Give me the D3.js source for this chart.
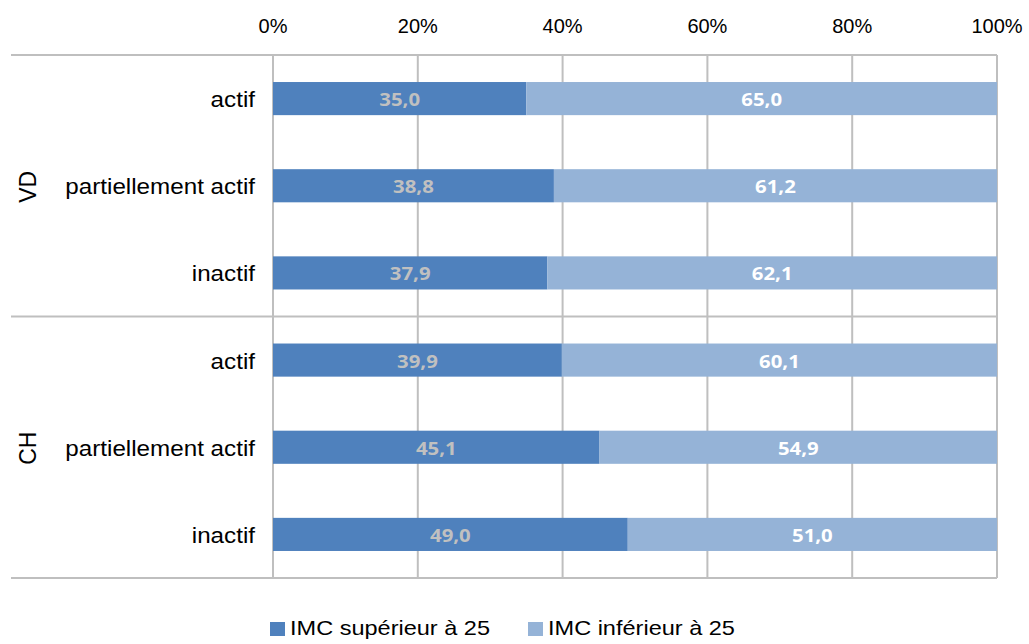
<!DOCTYPE html>
<html lang="fr">
<head>
<meta charset="utf-8">
<script src="https://cdn.jsdelivr.net/npm/d3@7"></script>
<style>
  body { margin: 0; background: #fff; }
  text { font-family: "Liberation Sans", Arial, sans-serif; }
</style>
</head>
<body>
<script>
// Données
var groups = ["VD", "CH"];
var categories = ["actif", "partiellement actif", "inactif"];
var superieur = [35.0, 38.8, 37.9, 39.9, 45.1, 49.0];
var inferieur = [65.0, 61.2, 62.1, 60.1, 54.9, 51.0];
var seriesNames = ["IMC supérieur à 25", "IMC inférieur à 25"];
var ticks = [0, 20, 40, 60, 80, 100];

var w = 1029, h = 644;
var mLeft = 273, mRight = 997, mTop = 55, mBottom = 578;
var colors = ["#4f81bd", "#95b3d7"];
var gridColor = "#bfbfbf";

var svg = d3.select("body").append("svg").attr("width", w).attr("height", h);

// le texte du graphique d'origine est un peu étiré en largeur
function stretch(sel, k) {
  sel.each(function() {
    var l = this.getComputedTextLength();
    d3.select(this).attr("textLength", l * k).attr("lengthAdjust", "spacingAndGlyphs");
  });
}

var rows = [];
groups.forEach(function(g, gi) {
  categories.forEach(function(c, ci) {
    var i = gi * categories.length + ci;
    rows.push({ key: g + "|" + c, group: g, cat: c, sup: superieur[i], inf: inferieur[i] });
  });
});

var x = d3.scaleLinear().domain([0, 100]).range([mLeft, mRight]);
var y = d3.scaleBand().domain(rows.map(function(d) { return d.key; }))
  .range([mTop, mBottom]).paddingInner(0.62).paddingOuter(0.31);

// Grille verticale
svg.selectAll("line.grid").data(ticks).enter().append("line")
  .attr("x1", function(d) { return x(d); }).attr("x2", function(d) { return x(d); })
  .attr("y1", mTop).attr("y2", mBottom)
  .attr("stroke", gridColor).attr("stroke-width", 2);

// Lignes horizontales (haut, séparation, bas)
var step = (mBottom - mTop) / rows.length;
[mTop, mTop + step * categories.length, mBottom].forEach(function(yy) {
  svg.append("line").attr("x1", 11).attr("x2", mRight)
    .attr("y1", yy).attr("y2", yy)
    .attr("stroke", gridColor).attr("stroke-width", 2);
});

// Axe du haut
svg.selectAll("text.tick").data(ticks).enter().append("text")
  .attr("x", function(d) { return x(d); }).attr("y", 33)
  .attr("text-anchor", "middle").attr("font-size", 20).attr("fill", "#000")
  .text(function(d) { return d + "%"; });

// Barres
var bars = svg.selectAll("g.row").data(rows).enter().append("g");
bars.append("rect")
  .attr("x", x(0)).attr("y", function(d) { return y(d.key); })
  .attr("width", function(d) { return x(d.sup) - x(0); })
  .attr("height", y.bandwidth()).attr("fill", colors[0]);
bars.append("rect")
  .attr("x", function(d) { return x(d.sup); }).attr("y", function(d) { return y(d.key); })
  .attr("width", function(d) { return x(d.sup + d.inf) - x(d.sup); })
  .attr("height", y.bandwidth()).attr("fill", colors[1]);

var fmt = function(v) { return v.toFixed(1).replace(".", ","); };
var supLbl = bars.append("text")
  .attr("x", function(d) { return x(d.sup / 2); })
  .attr("y", function(d) { return y(d.key) + y.bandwidth() / 2 + 7.5; })
  .attr("text-anchor", "middle").attr("font-size", 18).attr("font-weight", "bold")
  .style("font-family", "'Open Sans', sans-serif")
  .attr("fill", "#c0c0c0").text(function(d) { return fmt(d.sup); });
var infLbl = bars.append("text")
  .attr("x", function(d) { return x(d.sup + d.inf / 2); })
  .attr("y", function(d) { return y(d.key) + y.bandwidth() / 2 + 7.5; })
  .attr("text-anchor", "middle").attr("font-size", 18).attr("font-weight", "bold")
  .style("font-family", "'Open Sans', sans-serif")
  .attr("fill", "#fff").text(function(d) { return fmt(d.inf); });
stretch(supLbl, 1.13);
stretch(infLbl, 1.13);

// Libellés des catégories
var catLbl = svg.selectAll("text.cat").data(rows).enter().append("text")
  .attr("x", 255).attr("y", function(d) { return y(d.key) + y.bandwidth() / 2 + 8.5; })
  .attr("text-anchor", "end").attr("font-size", 22).attr("fill", "#000")
  .text(function(d) { return d.cat; });
stretch(catLbl, 1.1);

// Libellés des groupes
groups.forEach(function(g, gi) {
  var cy = mTop + step * categories.length * (gi + 0.5);
  svg.append("text")
    .attr("transform", "translate(36," + (cy + 1) + ") rotate(-90)")
    .attr("text-anchor", "middle").attr("font-size", 23).attr("fill", "#000")
    .text(g);
});

// Légende
var legendX = [270, 528];
seriesNames.forEach(function(s, i) {
  svg.append("rect").attr("x", legendX[i]).attr("y", 622).attr("width", 15).attr("height", 14)
    .attr("fill", colors[i]);
  var t = svg.append("text").attr("x", legendX[i] + 20).attr("y", 635)
    .attr("font-size", 21).attr("fill", "#000").text(s);
  stretch(t, 1.12);
});
</script>
</body>
</html>
